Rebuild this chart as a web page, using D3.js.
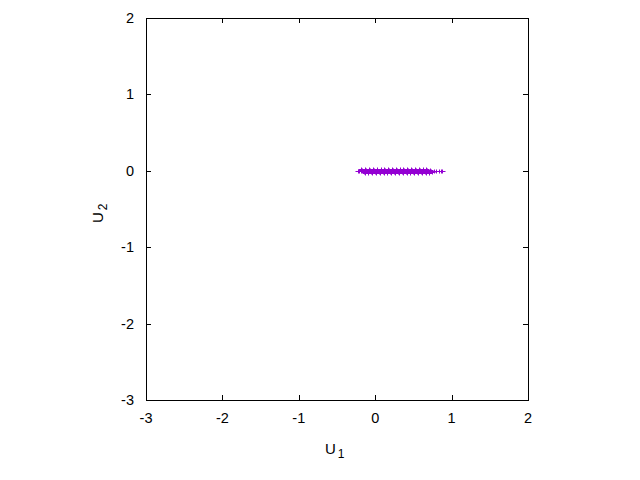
<!DOCTYPE html>
<html>
<head>
<meta charset="utf-8">
<script src="https://cdn.jsdelivr.net/npm/d3@7"></script>
<style>
  body { margin: 0; background: #fff; }
  svg { display: block; }
</style>
</head>
<body>
<svg width="640" height="480"></svg>
<script>
// scatter of U1 vs U2, gnuplot look
const xTicks = [-3, -2, -1, 0, 1, 2];
const yTicks = [-3, -2, -1, 0, 1, 2];

// sample points (all lie on U2 ~ 0)
const u1 = [
  -0.23, -0.21, -0.19,
  -0.18, -0.17, -0.16, -0.15, -0.14, -0.13, -0.12, -0.11, -0.10, -0.09,
  -0.08, -0.07, -0.06, -0.05, -0.04, -0.03, -0.02, -0.01, 0.00, 0.01,
  0.02, 0.03, 0.04, 0.05, 0.06, 0.07, 0.08, 0.09, 0.10, 0.11,
  0.12, 0.13, 0.14, 0.15, 0.16, 0.17, 0.18, 0.19, 0.20, 0.21,
  0.22, 0.23, 0.24, 0.25, 0.26, 0.27, 0.28, 0.29, 0.30, 0.31,
  0.32, 0.33, 0.34, 0.35, 0.36, 0.37, 0.38, 0.39, 0.40, 0.41,
  0.42, 0.43, 0.44, 0.45, 0.46, 0.47, 0.48, 0.49, 0.50, 0.51,
  0.52, 0.53, 0.54, 0.55, 0.56, 0.57, 0.58, 0.59, 0.60, 0.61,
  0.62, 0.63, 0.64, 0.65, 0.66, 0.67, 0.68, 0.69, 0.70, 0.71,
  0.72, 0.73, 0.74,
  0.77, 0.80, 0.83, 0.86, 0.88
];
const u2 = [
  0.000, 0.000, 0.000,
  0.026, 0.013, 0.000, -0.013, -0.026, 0.026, 0.013, 0.000, -0.013, -0.026,
  0.026, 0.013, 0.000, -0.013, -0.026, 0.026, 0.013, 0.000, -0.013, -0.026,
  0.026, 0.013, 0.000, -0.013, -0.026, 0.026, 0.013, 0.000, -0.013, -0.026,
  0.026, 0.013, 0.000, -0.013, -0.026, 0.026, 0.013, 0.000, -0.013, -0.026,
  0.026, 0.013, 0.000, -0.013, -0.026, 0.026, 0.013, 0.000, -0.013, -0.026,
  0.026, 0.013, 0.000, -0.013, -0.026, 0.026, 0.013, 0.000, -0.013, -0.026,
  0.026, 0.013, 0.000, -0.013, -0.026, 0.026, 0.013, 0.000, -0.013, -0.026,
  0.026, 0.013, 0.000, -0.013, -0.026, 0.026, 0.013, 0.000, -0.013, -0.026,
  0.026, 0.013, 0.000, -0.013, -0.026, 0.026, 0.013, 0.000, -0.013, -0.026,
  0.013, 0.000, -0.013,
  0.000, 0.000, 0.000, 0.000, 0.000
];

const svg = d3.select('svg');
const plotL = 146, plotR = 528, plotT = 18, plotB = 400;
const font = 'Liberation Sans, Arial, sans-serif';

const x = d3.scaleLinear().domain([-3, 2]).range([plotL, plotR]);
const y = d3.scaleLinear().domain([-3, 2]).range([plotB, plotT]);

// inward ticks on all four sides
const tickLen = 5;
const axes = svg.append('g').attr('stroke', '#000').attr('stroke-width', 1);
xTicks.forEach(t => {
  const px = Math.round(x(t)) + 0.5;
  axes.append('line').attr('x1', px).attr('x2', px).attr('y1', plotB).attr('y2', plotB - tickLen);
  axes.append('line').attr('x1', px).attr('x2', px).attr('y1', plotT).attr('y2', plotT + tickLen);
});
yTicks.forEach(t => {
  const py = Math.round(y(t)) + 0.5;
  axes.append('line').attr('x1', plotL).attr('x2', plotL + tickLen).attr('y1', py).attr('y2', py);
  axes.append('line').attr('x1', plotR).attr('x2', plotR - tickLen).attr('y1', py).attr('y2', py);
});
// frame
axes.append('rect')
  .attr('x', plotL + 0.5).attr('y', plotT + 0.5)
  .attr('width', plotR - plotL).attr('height', plotB - plotT)
  .attr('fill', 'none');

// tick labels
svg.append('g').selectAll('text').data(xTicks).enter().append('text')
  .text(d => d)
  .attr('x', d => x(d))
  .attr('y', plotB + 23)
  .attr('text-anchor', 'middle')
  .attr('font-family', font).attr('font-size', 14.5);
svg.append('g').selectAll('text').data(yTicks).enter().append('text')
  .text(d => d)
  .attr('x', plotL - 12)
  .attr('y', d => y(d) + 5)
  .attr('text-anchor', 'end')
  .attr('font-family', font).attr('font-size', 14.5);

// axis titles with subscripts
const xl = svg.append('text').attr('x', 325).attr('y', 454)
  .attr('font-family', font).attr('font-size', 15);
xl.append('tspan').text('U');
xl.append('tspan').text('1').attr('font-size', 12).attr('dx', 2).attr('dy', 4);

const yl = svg.append('text')
  .attr('transform', 'translate(103,223) rotate(-90)')
  .attr('font-family', font).attr('font-size', 15);
yl.append('tspan').text('U');
yl.append('tspan').text('2').attr('font-size', 12).attr('dx', 2).attr('dy', 4);

// points as small plus marks
const pts = u1.map((v, i) => ({ a: v, b: u2[i] }));
const marks = svg.append('g').attr('stroke', '#9400d3').attr('stroke-width', 1);
marks.selectAll('path').data(pts).enter().append('path')
  .attr('d', d => {
    const px = Math.round(x(d.a)) + 0.5, py = Math.round(y(d.b)) + 0.5;
    return `M${px - 3},${py}H${px + 3}M${px},${py - 2}V${py + 2}`;
  });
</script>
</body>
</html>
